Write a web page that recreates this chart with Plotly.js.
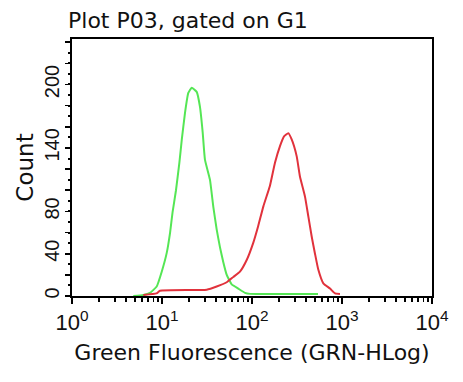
<!DOCTYPE html>
<html>
<head>
<meta charset="utf-8">
<script src="https://cdn.plot.ly/plotly-3.0.1.min.js"></script>
<style>html,body{margin:0;padding:0;background:#fff}#chart{width:463px;height:382px}</style>
</head>
<body>
<div id="chart"></div>
<script>
// Green histogram (isotype / control)
var greenX = [4.8, 6.2, 7.36, 8.73, 9.93, 11.3, 12.3, 13.1, 14.3, 15.6, 16.6, 18.0, 19.6, 21.4, 24.3, 26.4, 28.3, 30.0, 34.1, 37.2, 40.5, 44.1, 48.0, 52.4, 59.5, 70.4, 83.6, 95, 541];
var greenY = [0, 1, 3, 9, 23, 41, 60, 79, 100, 126, 148, 173, 192, 197, 193, 179, 155, 129, 110, 84, 63, 46, 32, 20, 11, 7, 3, 2, 2];
// Red histogram (stained sample)
var redX = [6.2, 8.7, 9.5, 31.4, 40.5, 52.4, 62.0, 73.5, 87.3, 103, 117, 134, 158, 180, 205, 227, 253, 276, 314, 341, 388, 423, 461, 501, 545, 620, 736, 836, 950];
var redY = [1, 2.5, 5, 6, 9, 13, 18, 23, 34, 50, 66, 85, 104, 126, 142, 151, 154, 148, 132, 113, 94, 75, 56, 40, 25, 12, 7, 2.5, 2];

var xTickVals = [1, 10, 100, 1000, 10000];
var xTickText = ['10<sup>0</sup>', '10<sup>1</sup>', '10<sup>2</sup>', '10<sup>3</sup>', '10<sup>4</sup>'];
var yTickMarks = [0, 20, 40, 60, 80, 100, 120, 140, 160, 180, 200, 220, 240];
var yLabelVals = [0, 40, 80, 140, 200];
var yLabelText = ['0', '40', '80', '140', '200'];
var xMinor = [];
[1, 10, 100, 1000].forEach(function (d) { for (var m = 2; m <= 9; m++) xMinor.push(m * d); });

var traces = [
  {x: greenX, y: greenY, type: 'scatter', mode: 'lines', line: {color: 'rgb(85,230,85)', width: 2, shape: 'spline', smoothing: 0.4}, hoverinfo: 'skip'},
  {x: redX, y: redY, type: 'scatter', mode: 'lines', line: {color: 'rgb(225,50,60)', width: 2, shape: 'spline', smoothing: 0.4}, hoverinfo: 'skip'},
  {x: [1], y: [0], yaxis: 'y2', type: 'scatter', mode: 'markers', marker: {opacity: 0}, hoverinfo: 'skip'}
];

var layout = {
  width: 463, height: 382,
  margin: {l: 72, r: 31, t: 39, b: 86},
  paper_bgcolor: '#fff', plot_bgcolor: '#fff',
  showlegend: false,
  font: {family: 'Liberation Sans, Arial, sans-serif', color: '#111'},
  title: {text: 'Plot P03, gated on G1', font: {family: 'DejaVu Sans', size: 22, color: '#111'},
          xref: 'container', yref: 'container', x: 68/463, xanchor: 'left', y: 1 - 20/382, yanchor: 'middle'},
  xaxis: {
    type: 'log', range: [0, 4], showgrid: false, zeroline: false,
    showline: true, linecolor: '#000', linewidth: 2, mirror: true,
    ticks: 'outside', ticklen: 6, tickwidth: 1.6, tickcolor: '#000',
    tickmode: 'array', tickvals: xTickVals, ticktext: xTickText,
    tickfont: {family: 'Liberation Sans', size: 22, color: '#111'},
    minor: {tickmode: 'array', tickvals: xMinor, ticks: 'outside', ticklen: 4, tickwidth: 1.5, tickcolor: '#000', showgrid: false},
    title: {text: 'Green Fluorescence (GRN-HLog)', font: {family: 'DejaVu Sans', size: 22, color: '#111'}, standoff: 10},
    automargin: false
  },
  yaxis: {
    range: [0, 243], showgrid: false, zeroline: false,
    showline: true, linecolor: '#000', linewidth: 2, mirror: true,
    ticks: 'outside', ticklen: 5, tickwidth: 1.6, tickcolor: '#000',
    tickmode: 'array', tickvals: yTickMarks, showticklabels: false,
    minor: {dtick: 10, ticks: 'outside', ticklen: 2, tickwidth: 2, tickcolor: '#000', showgrid: false},
    automargin: false
  },
  yaxis2: {
    overlaying: 'y', side: 'left', range: [0, 243], showgrid: false, zeroline: false,
    showline: false, ticks: 'outside', ticklen: 4, tickcolor: 'rgba(0,0,0,0)',
    tickmode: 'array', tickvals: yLabelVals, ticktext: yLabelText, tickangle: -90,
    tickfont: {family: 'Liberation Sans', size: 20, color: '#111'},
    title: {text: 'Count', font: {family: 'DejaVu Sans', size: 23, color: '#111'}, standoff: 0},
    automargin: false
  }
};

Plotly.newPlot('chart', traces, layout, {displayModeBar: false, staticPlot: true});
</script>
</body>
</html>
